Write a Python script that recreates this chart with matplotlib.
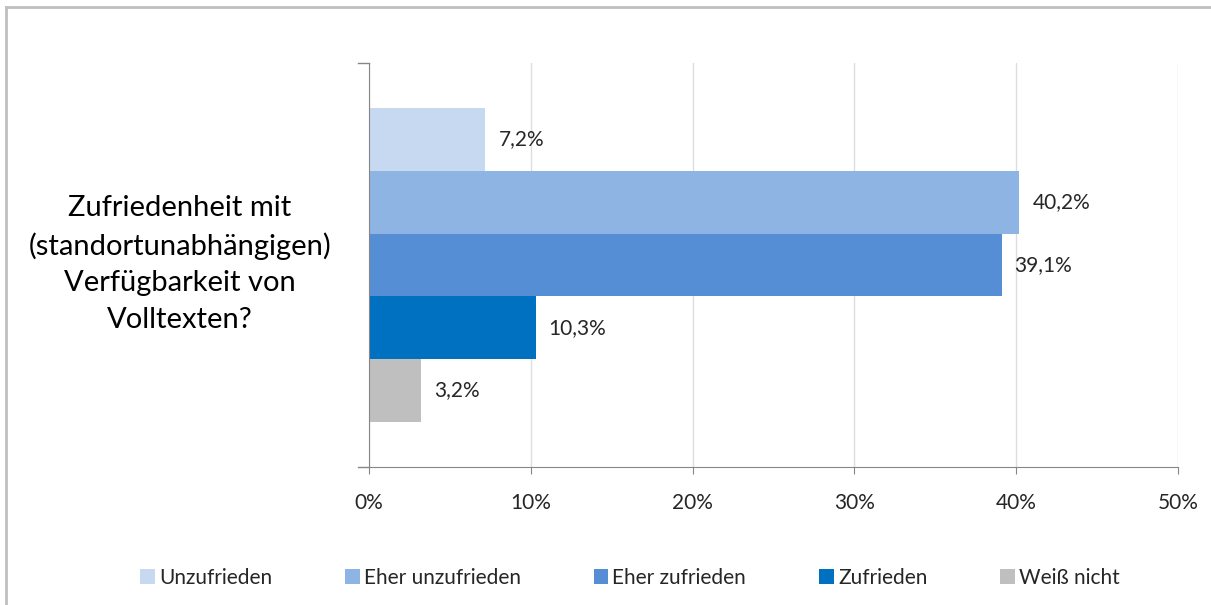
import matplotlib
matplotlib.use("Agg")
import matplotlib.pyplot as plt
from matplotlib.patches import Patch
from matplotlib.lines import Line2D

plt.rcParams['font.family'] = ['Lato', 'DejaVu Sans']

category = "Zufriedenheit mit\n(standortunabhängigen)\nVerfügbarkeit von\nVolltexten?"
series = ["Unzufrieden", "Eher unzufrieden", "Eher zufrieden", "Zufrieden", "Weiß nicht"]
values = [7.2, 40.2, 39.1, 10.3, 3.2]
labels = ["7,2%", "40,2%", "39,1%", "10,3%", "3,2%"]
colors = ["#C6D9F1", "#8EB4E3", "#558ED5", "#0070C0", "#BFBFBF"]
xticks = [0, 10, 20, 30, 40, 50]
xticklabels = ["0%", "10%", "20%", "30%", "40%", "50%"]

W, H = 1211, 605
fig = plt.figure(figsize=(W / 100, H / 100), dpi=100)
ax = fig.add_axes([369 / W, 1 - 467 / H, (1178 - 369) / W, (467 - 63) / H])

n = len(series)
for i, (s, v, c, lab) in enumerate(zip(series, values, colors, labels)):
    y = n - 1 - i
    ax.barh(y, v, height=1.0, color=c, edgecolor='none', zorder=2)
    ax.text(v + 0.8, y, lab, va='center', ha='left', fontsize=15, color='#262626')

g = 0.72
ax.set_ylim(-0.5 - g, n - 0.5 + g)
ax.set_xlim(0, 50)
ax.set_xticks(xticks)
ax.set_xticklabels(xticklabels, fontsize=15, color='#262626')
ax.xaxis.grid(True, color='#DDDDDD', linewidth=1, zorder=0)
ax.set_axisbelow(True)
ax.set_yticks([])
for sp in ['top', 'right']:
    ax.spines[sp].set_visible(False)
ax.spines['left'].set_color('#868686')
ax.spines['bottom'].set_color('#868686')
ax.tick_params(axis='x', length=5, color='#868686', pad=14, direction='out')

# category boundary ticks on y-axis
ylo, yhi = ax.get_ylim()
for yy in (ylo, yhi):
    ax.add_line(Line2D([-11 / 16.18, 0], [yy, yy], color='#868686', lw=1, clip_on=False))

fig.text(180 / W, 1 - 264 / H, category, ha='center', va='center', fontsize=21,
         color='#000000', linespacing=1.5)

handles = [Patch(facecolor=c, edgecolor='none') for c in colors]
fig.legend(handles, series, loc='center', bbox_to_anchor=(630 / W, 1 - 578 / H), ncol=5,
           frameon=False, fontsize=15, handlelength=0.7, handleheight=0.7,
           handletextpad=0.2, columnspacing=3.5, labelcolor='#262626')

# outer border (top and left)
fig.add_artist(Line2D([6 / W, 1], [1 - 7 / H, 1 - 7 / H], transform=fig.transFigure, color='#BFBFBF', lw=2))
fig.add_artist(Line2D([6 / W, 6 / W], [0, 1 - 7 / H], transform=fig.transFigure, color='#BFBFBF', lw=2))

fig.savefig("out.png", dpi=100)
